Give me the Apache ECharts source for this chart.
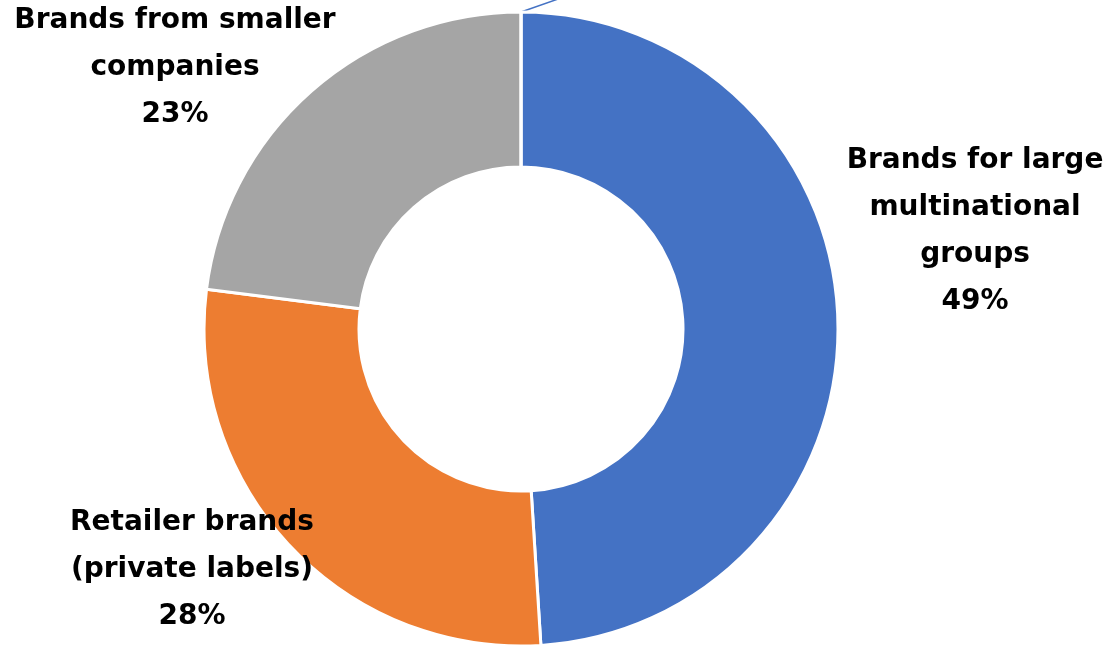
<!DOCTYPE html>
<html>
<head>
<meta charset="utf-8">
<script src="https://cdn.jsdelivr.net/npm/echarts@6/dist/echarts.min.js"></script>
<style>
html,body{margin:0;padding:0;background:#fff;}
#c{width:1109px;height:646px;}
</style>
</head>
<body>
<div id="c"></div>
<script>
const categories = ['Brands for large\nmultinational\ngroups', 'Retailer brands\n(private labels)', 'Brands from smaller\ncompanies', ''];
const values = [49, 28, 23, 0];
const colors = ['#4472C4', '#ED7D31', '#A5A5A5', '#4472C4'];
const labelPos = [[975, 231], [192, 570], [175, 68], [600, -8]];

const chart = echarts.init(document.getElementById('c'), null, {renderer: 'canvas'});
chart.setOption({
  animation: false,
  backgroundColor: '#fff',
  series: [{
    type: 'pie',
    center: [521, 329],
    radius: [162, 317],
    startAngle: 90,
    clockwise: true,
    avoidLabelOverlap: false,
    stillShowZeroSum: true,
    minShowLabelAngle: 0,
    itemStyle: {borderColor: '#fff', borderWidth: 3},
    label: {
      show: true,
      position: 'outside',
      color: '#000',
      fontFamily: 'DejaVu Sans',
      fontWeight: 'bold',
      fontSize: 28,
      lineHeight: 47,
      align: 'center',
      formatter: p => p.value > 0 ? p.name + '\n' + p.value + '%' : '.'
    },
    labelLine: {show: false},
    labelLayout: p => ({
      x: labelPos[p.dataIndex][0],
      y: labelPos[p.dataIndex][1],
      align: 'center',
      verticalAlign: 'middle'
    }),
    data: values.map((v, i) => ({
      name: categories[i],
      value: v,
      itemStyle: {color: colors[i]},
      label: i === 3 ? {color: 'rgba(0,0,0,0)', fontSize: 10} : undefined,
      labelLine: i === 3 ? {show: true, length: 10, length2: 20, lineStyle: {color: '#4472C4', width: 1.5}} : undefined
    }))
  }]
});
</script>
</body>
</html>
